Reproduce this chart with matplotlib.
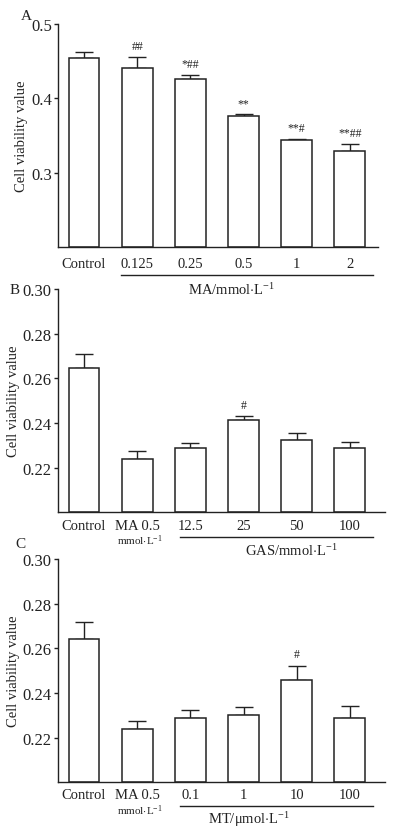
import matplotlib
matplotlib.use('Agg')
import matplotlib.pyplot as plt
import numpy as np

plt.rcParams['font.family'] = ['Liberation Serif', 'DejaVu Serif']
plt.rcParams['mathtext.fontset'] = 'custom'
plt.rcParams['mathtext.rm'] = 'Liberation Serif'
plt.rcParams['mathtext.it'] = 'Liberation Serif:italic'

ink = '#222222'
unit = r'mmol$\cdot$L$^{-1}$'

# panel A
labels_a = ['Control', '0.125', '0.25', '0.5', '1', '2']
vals_a = [0.454, 0.441, 0.426, 0.376, 0.344, 0.330]
err_a = [0.009, 0.015, 0.006, 0.003, 0.002, 0.009]
sig_a = ['', '##', '*##', '**', '**#', '**##']

# panel B
labels_b = ['Control', 'MA 0.5', '12.5', '25', '50', '100']
vals_b = [0.2645, 0.2239, 0.2289, 0.2413, 0.2324, 0.2287]
err_b = [0.0062, 0.0035, 0.0023, 0.0018, 0.0031, 0.0026]
sig_b = ['', '', '', '#', '', '']

# panel C
labels_c = ['Control', 'MA 0.5', '0.1', '1', '10', '100']
vals_c = [0.2643, 0.2239, 0.2288, 0.2303, 0.2457, 0.2286]
err_c = [0.0074, 0.0036, 0.0036, 0.0033, 0.0066, 0.0056]
sig_c = ['', '', '', '', '#', '']

fig = plt.figure(figsize=(3.96, 8.37), dpi=100)


def panel(rect, labels, vals, errs, sigs, ylim, yticks, yfmt, xright,
          group, line_from, line_y, group_x, group_y, ma_sub, tpad):
	ax = fig.add_axes(rect)
	ax.patch.set_visible(False)
	x = np.arange(len(vals))
	ax.errorbar(x, vals, yerr=[np.zeros(len(errs)), errs], fmt='none',
	            ecolor=ink, elinewidth=1.0, capsize=6.5, capthick=1.0, zorder=1)
	ax.bar(x, np.array(vals) - ylim[0], bottom=ylim[0], width=0.58, color='white',
	       edgecolor=ink, linewidth=1.1, zorder=2)
	for i in range(len(vals)):
		if sigs[i]:
			ax.annotate(sigs[i], (x[i], vals[i] + errs[i]), xytext=(0, 8),
			            textcoords='offset points', ha='center', va='center',
			            fontsize=8.5, color=ink)
	ax.set_xlim(-0.49, xright)
	ax.set_ylim(*ylim)
	ax.set_yticks(yticks)
	ax.set_yticklabels([yfmt % t for t in yticks], fontsize=12, color=ink)
	ax.set_xticks(x)
	ax.set_xticklabels(labels, fontsize=10.5, color=ink)
	ax.tick_params(axis='x', length=0, pad=tpad)
	ax.tick_params(axis='y', length=3, width=1, color=ink, pad=1.5)
	ax.spines['top'].set_visible(False)
	ax.spines['right'].set_visible(False)
	for s in ['left', 'bottom']:
		ax.spines[s].set_linewidth(1.0)
		ax.spines[s].set_color(ink)
	ax.set_ylabel('Cell viability value', fontsize=10.5, color=ink, labelpad=2)
	tr = ax.get_xaxis_transform()
	ax.plot([line_from, 5.43], [line_y, line_y], transform=tr, color=ink,
	        linewidth=1.0, clip_on=False)
	ax.text(group_x, group_y, group, transform=tr, ha='center', va='center',
	        fontsize=10.5, color=ink)
	if ma_sub:
		ax.annotate(unit, (1, 0), xycoords=tr, xytext=(2, -20),
		            textcoords='offset points', ha='center', va='center',
		            fontsize=8, color=ink)
	return ax


h = 223.3 / 837
panel([58 / 396, 1 - 248.3 / 837, 320 / 396, h], labels_a, vals_a, err_a, sig_a,
      (0.2, 0.5), [0.3, 0.4, 0.5], '%.1f', 5.53, 'MA/' + unit, 0.7, -0.123,
      2.78, -0.185, False, 7)
panel([58 / 396, 1 - 513.3 / 837, 327 / 396, h], labels_b, vals_b, err_b, sig_b,
      (0.2, 0.3), [0.22, 0.24, 0.26, 0.28, 0.30], '%.2f', 5.66, 'GAS/' + unit,
      1.8, -0.109, 3.9, -0.168, True, 4.5)
panel([58 / 396, 1 - 783.3 / 837, 327 / 396, h], labels_c, vals_c, err_c, sig_c,
      (0.2, 0.3), [0.22, 0.24, 0.26, 0.28, 0.30], '%.2f', 5.66,
      r'MT/μmol$\cdot$L$^{-1}$', 1.8, -0.105, 3.1, -0.163, True, 4)

fig.text(26 / 396, 1 - 17 / 837, 'A', fontsize=11, color=ink, ha='center', va='center')
fig.text(15 / 396, 1 - 290 / 837, 'B', fontsize=11, color=ink, ha='center', va='center')
fig.text(20 / 396, 1 - 545 / 837, 'C', fontsize=11, color=ink, ha='center', va='center')

plt.savefig('out.png', dpi=100)
